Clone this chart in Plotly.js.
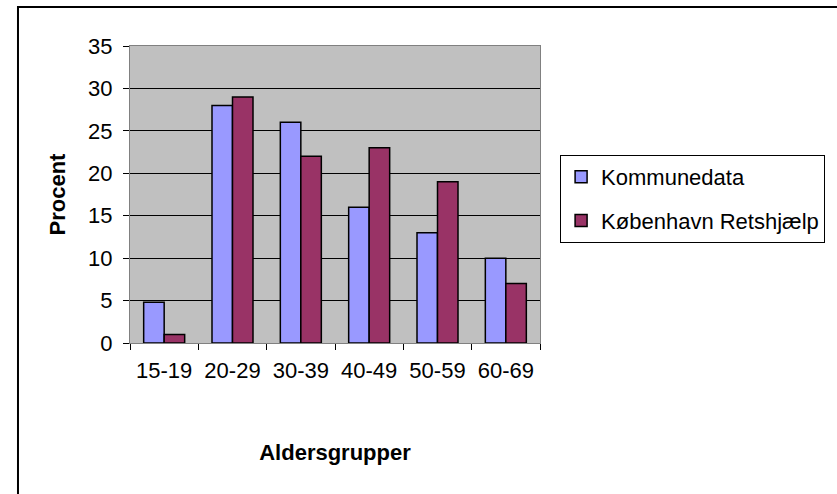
<!DOCTYPE html>
<html>
<head>
<meta charset="utf-8">
<script src="https://cdn.plot.ly/plotly-3.0.1.min.js"></script>
<style>html,body{margin:0;padding:0;background:#fff;}</style>
</head>
<body>
<div id="chart" style="width:837px;height:494px;"></div>
<script>
const categories = ["15-19", "20-29", "30-39", "40-49", "50-59", "60-69"];
const kommunedata = [4.8, 28, 26, 16, 13, 10];
const kobenhavn = [1, 29, 22, 23, 19, 7];
const seriesNames = ["Kommunedata", "København Retshjælp"];
const yTicks = [0, 5, 10, 15, 20, 25, 30, 35];

const font = "'Liberation Sans', Arial, sans-serif";

const traces = [
  {type: "bar", name: seriesNames[0], x: categories, y: kommunedata, legendgroup: "a",
   marker: {color: "#9999FF", line: {color: "#000", width: 1.5}}},
  {type: "bar", name: seriesNames[1], x: categories, y: kobenhavn, legendgroup: "b",
   marker: {color: "#993366", line: {color: "#000", width: 1.5}}}
];

const layout = {
  width: 837, height: 494,
  margin: {l: 130, r: 297, t: 46, b: 151},
  paper_bgcolor: "#fff", plot_bgcolor: "#C0C0C0",
  font: {family: font, size: 22, color: "#000"},
  barmode: "group", bargap: 0.4, bargroupgap: 0,
  showlegend: true,
  legend: {x: 1.049, xanchor: "left", y: 0.633, yanchor: "top",
           bordercolor: "#000", borderwidth: 1, bgcolor: "#fff", itemwidth: 30,
           font: {family: font, size: 22}, traceorder: "grouped", tracegroupgap: 12},
  xaxis: {type: "category", tickson: "boundaries", ticks: "outside", ticklen: 6, tickcolor: "#000",
          showline: true, linecolor: "#808080", mirror: true, showgrid: false,
          ticklabelstandoff: 8,
          tickfont: {family: font, size: 22},
          title: {text: "<b>Aldersgrupper</b>", font: {family: font, size: 22}, standoff: 62}},
  yaxis: {range: [0, 35], tickvals: yTicks, ticks: "outside", ticklen: 6, tickcolor: "#000",
          showline: true, linecolor: "#808080", mirror: true,
          gridcolor: "#000", gridwidth: 1, zeroline: true, zerolinecolor: "#000",
          ticklabelstandoff: 6,
          tickfont: {family: font, size: 22},
          title: {text: "<b>Procent</b>", font: {family: font, size: 22}, standoff: 16}},
  shapes: [
    {type: "rect", xref: "paper", yref: "paper", x0: -0.2732, x1: 2.5, y0: -1.5, y1: 1.1313,
     line: {color: "#000", width: 2}, fillcolor: "rgba(0,0,0,0)", layer: "above"}
  ]
};

Plotly.newPlot("chart", traces, layout, {displayModeBar: false, staticPlot: true});
</script>
</body>
</html>
